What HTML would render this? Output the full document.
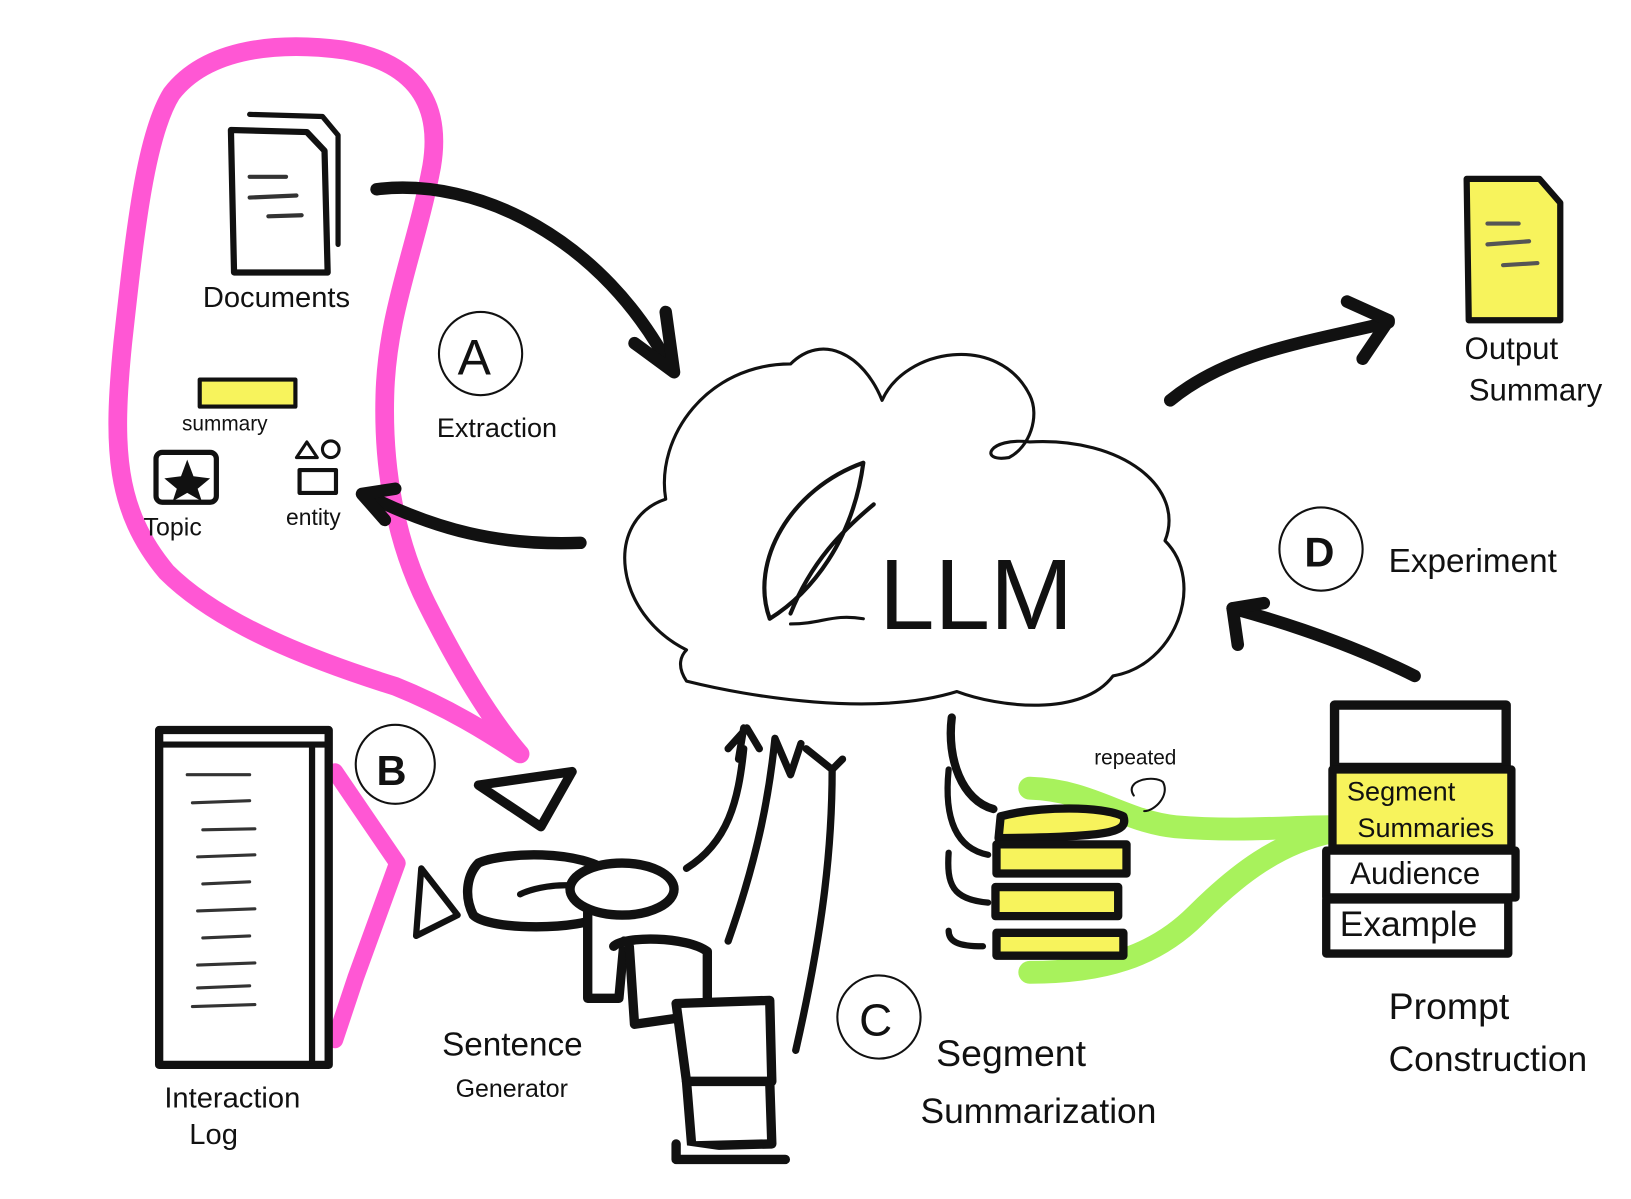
<!DOCTYPE html>
<html><head><meta charset="utf-8"><style>
html,body{margin:0;padding:0;background:#fff;width:1631px;height:1199px;overflow:hidden}
svg{display:block}
text{font-family:"Liberation Sans",sans-serif;fill:#111}
</style></head><body>
<svg width="1631" height="1199" viewBox="0 0 1568 1153" preserveAspectRatio="none" xmlns="http://www.w3.org/2000/svg">
<g fill="none" stroke-linecap="round" stroke-linejoin="round">
<!-- pink loop -->
<path d="M500,725 C470,690 440,640 410,580 C380,520 368,450 370,380 C372,300 400,240 415,160 C425,100 400,60 330,48 C270,40 200,45 165,90 C140,130 130,220 118,330 C108,430 110,490 160,550 C210,600 300,635 380,660 C430,680 470,705 500,725" stroke="#ff57d4" stroke-width="18"/>
<path d="M322,742 L382,830 L342,940 L322,1000" stroke="#ff57d4" stroke-width="16"/>
<!-- green -->
<path d="M990,758 C1050,760 1080,790 1130,795 C1190,800 1240,795 1280,795" stroke="#a8f25c" stroke-width="22"/>
<path d="M1280,800 C1230,810 1190,840 1150,880 C1110,920 1060,935 990,935" stroke="#a8f25c" stroke-width="22"/>
<!-- cloud -->
<path d="M660,625 C590,590 580,500 640,480 C630,420 680,350 760,350 C790,320 830,340 848,385 C870,335 960,320 990,380 C1000,400 990,430 970,440 C940,445 950,420 990,425 C1080,420 1140,470 1120,520 C1160,560 1130,640 1070,650 C1040,690 960,680 920,665 C840,690 720,670 660,655 C650,640 655,630 660,625 Z" stroke="#111" stroke-width="3"/>
<!-- leaf -->
<path d="M740,595 C720,540 760,470 830,445 C820,520 780,570 740,595 Z M760,590 C780,540 810,510 840,485" stroke="#111" stroke-width="4"/>
<path d="M760,600 C790,600 800,590 830,595" stroke="#111" stroke-width="3"/>
<!-- black arrows -->
<g stroke="#111" stroke-width="12">
<path d="M362,182 C460,170 580,230 645,355"/>
<path d="M610,330 L648,358 L640,300"/>
<path d="M558,522 C480,525 420,510 350,475"/>
<path d="M380,470 L348,475 L370,500"/>
<path d="M1125,385 C1180,340 1250,330 1335,310"/>
<path d="M1295,290 L1335,308 L1310,345"/>
<path d="M1360,650 C1300,620 1240,600 1185,585"/>
<path d="M1190,620 L1185,585 L1215,580"/>
<path d="M915,690 C910,730 925,770 955,778" stroke-width="8"/>
<path d="M912,740 C908,780 915,815 950,822" stroke-width="6"/>
<path d="M912,820 C910,850 915,865 950,868" stroke-width="6"/>
<path d="M912,895 C912,905 920,910 945,910" stroke-width="6"/>
</g>
<!-- documents -->
<path d="M240,110 L310,112 L325,130 L325,235" stroke="#111" stroke-width="5"/>
<path d="M222,125 L295,127 L312,145 L315,262 L225,262 Z" fill="#fff" stroke="#111" stroke-width="6"/>
<path d="M240,170 L275,170 M240,190 L285,188 M258,208 L290,207" stroke="#333" stroke-width="4"/>
<!-- output summary -->
<path d="M1410,172 L1480,172 L1500,195 L1500,308 L1412,308 Z" fill="#f7f35c" stroke="#111" stroke-width="6"/>
<path d="M1430,215 L1460,215 M1430,235 L1470,232 M1445,255 L1478,253" stroke="#555" stroke-width="4"/>
<!-- summary/topic/entity -->
<rect x="192" y="365" width="92" height="26" fill="#f7f35c" stroke="#111" stroke-width="4"/>
<rect x="150" y="435" width="58" height="48" rx="6" stroke="#111" stroke-width="5"/>
<path d="M180,442 L186,458 L202,460 L190,470 L194,482 L180,474 L166,482 L170,470 L158,460 L174,458 Z" fill="#111"/>
<path d="M285,440 L295,425 L305,440 Z" stroke="#111" stroke-width="3"/>
<circle cx="318" cy="432" r="8" stroke="#111" stroke-width="3"/>
<rect x="288" y="452" width="35" height="22" stroke="#111" stroke-width="4"/>
<!-- circle labels -->
<circle cx="462" cy="340" r="40" stroke="#111" stroke-width="2"/>
<circle cx="380" cy="735" r="38" stroke="#111" stroke-width="2"/>
<circle cx="845" cy="978" r="40" stroke="#111" stroke-width="2"/>
<circle cx="1270" cy="528" r="40" stroke="#111" stroke-width="2"/>
<!-- interaction log -->
<rect x="153" y="702" width="163" height="322" stroke="#111" stroke-width="8"/>
<path d="M153,716 L316,716 M300,716 L300,1020" stroke="#111" stroke-width="6"/>
<g stroke="#333" stroke-width="3"><path d="M180,745 L240,745 M185,772 L240,770 M195,798 L245,797 M190,824 L245,822 M195,850 L240,848 M190,876 L245,874 M195,902 L240,900 M190,928 L245,926 M190,950 L240,948 M185,968 L245,966"/></g>
<!-- sentence generator -->
<g stroke="#111" stroke-width="9" fill="#fff">
<path d="M460,755 L550,742 L520,795 Z"/>
<path d="M405,835 L440,880 L400,900 Z" stroke-width="6"/>
<path d="M460,830 C480,820 560,815 590,842 L580,880 C560,895 470,895 455,880 C445,860 450,840 460,830 Z"/>
<path d="M500,860 C520,850 570,845 580,865" stroke-width="6"/>
<path d="M565,860 L565,960 L595,960 L600,905"/>
<ellipse cx="598" cy="855" rx="50" ry="25"/>
<path d="M590,910 C600,900 660,900 680,915 L680,975 L610,985 L605,910"/>
<path d="M650,965 L740,962 L742,1040 L660,1040 Z"/>
<path d="M660,1040 L740,1040 L742,1100 L665,1102 Z"/>
<path d="M650,1100 L650,1115 L755,1115"/>
</g>
<g stroke="#111" stroke-width="7">
<path d="M660,835 C700,810 710,770 715,720 M715,700 L710,730 M700,720 L718,700 L730,720"/>
<path d="M700,905 C730,820 740,760 745,710 L760,745 L770,715"/>
<path d="M775,720 L800,740 L810,730"/>
<path d="M765,1010 C790,900 800,820 800,740"/>
</g>
<!-- stack -->
<g fill="#f7f35c" stroke="#111" stroke-width="8">
<path d="M962,785 C1000,775 1060,775 1080,785 C1085,800 1070,805 960,806 Z"/>
<rect x="958" y="812" width="125" height="28"/>
<rect x="957" y="853" width="118" height="28"/>
<rect x="958" y="897" width="122" height="22"/>
</g>
<path d="M1090,765 C1080,750 1110,745 1118,752 C1125,765 1110,780 1100,780" stroke="#111" stroke-width="2"/>
<!-- prompt box -->
<rect x="1283" y="678" width="165" height="60" stroke="#111" stroke-width="9"/>
<rect x="1281" y="740" width="172" height="76" fill="#f7f35c" stroke="#111" stroke-width="8"/>
<rect x="1275" y="818" width="182" height="45" stroke="#111" stroke-width="8"/>
<rect x="1275" y="865" width="175" height="52" stroke="#111" stroke-width="8"/>
</g>
<!-- text -->
<text x="195" y="295" font-size="28">Documents</text>
<text x="175" y="414" font-size="20">summary</text>
<text x="138" y="515" font-size="24">Topic</text>
<text x="275" y="505" font-size="22">entity</text>
<text x="440" y="360" font-size="48">A</text>
<text x="362" y="755" font-size="40" font-weight="bold">B</text>
<text x="826" y="996" font-size="44">C</text>
<text x="1254" y="545" font-size="40" font-weight="bold">D</text>
<text x="420" y="420" font-size="26">Extraction</text>
<text x="845" y="605" font-size="96">LLM</text>
<text x="1408" y="345" font-size="30">Output</text>
<text x="1412" y="385" font-size="30">Summary</text>
<text x="1335" y="550" font-size="32">Experiment</text>
<text x="1052" y="735" font-size="20">repeated</text>
<text x="1295" y="770" font-size="26">Segment</text>
<text x="1305" y="805" font-size="26">Summaries</text>
<text x="1298" y="850" font-size="30">Audience</text>
<text x="1288" y="900" font-size="34">Example</text>
<text x="1335" y="980" font-size="36">Prompt</text>
<text x="1335" y="1030" font-size="34">Construction</text>
<text x="900" y="1025" font-size="36">Segment</text>
<text x="885" y="1080" font-size="34">Summarization</text>
<text x="425" y="1015" font-size="32">Sentence</text>
<text x="438" y="1055" font-size="24">Generator</text>
<text x="158" y="1065" font-size="28">Interaction</text>
<text x="182" y="1100" font-size="28">Log</text>
</svg>
</body></html>
